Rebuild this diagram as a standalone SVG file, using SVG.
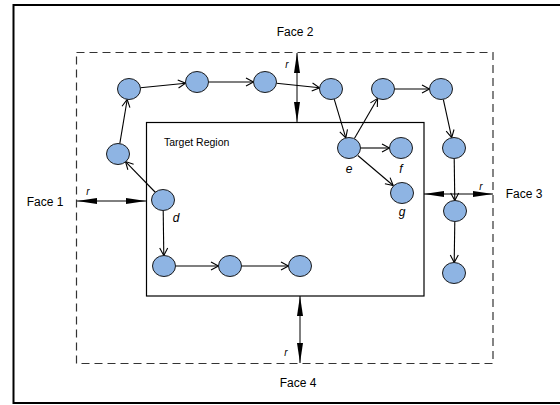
<svg xmlns="http://www.w3.org/2000/svg" width="560" height="405" viewBox="0 0 560 405">
<defs>
<style>
.node{fill:#8EB4E3;stroke:#1a1a1a;stroke-width:1}
.edge{stroke:#000;stroke-width:1.1;fill:none;marker-end:url(#open)}
.dim{stroke:#000;stroke-width:1;fill:none;marker-start:url(#solid);marker-end:url(#solid)}
.face{font-family:"Liberation Sans",Arial,sans-serif;font-size:12px;fill:#000;text-anchor:middle}
.lbl{font-family:"Liberation Sans",Arial,sans-serif;font-size:12px;font-style:italic;fill:#000;text-anchor:middle}
.r{font-family:"Liberation Sans",Arial,sans-serif;font-size:10px;font-style:italic;fill:#000;text-anchor:middle}
</style>
<marker id="open" markerUnits="userSpaceOnUse" markerWidth="12" markerHeight="12" refX="8" refY="4" orient="auto" overflow="visible">
<path d="M0.5,0 L8,4 L0.5,8" fill="none" stroke="#000" stroke-width="1.1"/>
</marker>
<marker id="solid" markerUnits="userSpaceOnUse" markerWidth="22" markerHeight="8" refX="20" refY="3" orient="auto-start-reverse" overflow="visible">
<path d="M0,0 L20,3 L0,6 Z" fill="#000"/>
</marker>
</defs>
<rect x="13.5" y="5" width="560" height="398" fill="#fff" stroke="#000" stroke-width="2"/>
<rect x="76.5" y="52.5" width="416.5" height="311" fill="none" stroke="#333" stroke-width="1.2" stroke-dasharray="8,5"/>
<g id="target">
<rect x="146.5" y="122.5" width="277.5" height="173.5" fill="#fff" stroke="#000" stroke-width="1.2"/>
<text x="164" y="146" font-family="Liberation Sans,Arial,sans-serif" font-size="10.5px">Target Region</text>
</g>
<g id="connectors">
<line class="edge" x1="119.8" y1="143.6" x2="127.2" y2="99.5"/>
<line class="edge" x1="140.4" y1="87.8" x2="185.6" y2="83.2"/>
<line class="edge" x1="208.5" y1="82" x2="253.5" y2="82"/>
<line class="edge" x1="276.4" y1="83.2" x2="319.6" y2="87.8"/>
<line class="edge" x1="334.2" y1="99.1" x2="345.8" y2="137.8"/>
<line class="edge" x1="354.4" y1="138.6" x2="377.6" y2="98.4"/>
<line class="edge" x1="394.5" y1="89" x2="429.5" y2="89"/>
<line class="edge" x1="443.3" y1="99.3" x2="451.7" y2="137.7"/>
<line class="edge" x1="360.5" y1="148" x2="389.5" y2="148"/>
<line class="edge" x1="357.8" y1="155.5" x2="393.2" y2="185.5"/>
<line class="edge" x1="454.2" y1="158.5" x2="454.8" y2="200.5"/>
<line class="edge" x1="454.8" y1="221.5" x2="454.2" y2="262.5"/>
<line class="edge" x1="155.5" y1="192.5" x2="125.5" y2="161.6"/>
<line class="edge" x1="163.2" y1="210.5" x2="163.8" y2="255.5"/>
<line class="edge" x1="175.5" y1="266" x2="218.5" y2="266"/>
<line class="edge" x1="241.5" y1="266" x2="288.5" y2="266"/>
<line class="dim" x1="297" y1="53" x2="297" y2="122"/>
<line class="dim" x1="77" y1="201" x2="146" y2="201"/>
<line class="dim" x1="424" y1="194" x2="493" y2="194"/>
<line class="dim" x1="300" y1="296" x2="300" y2="363"/>
</g>
<g id="nA"><ellipse class="node" cx="118" cy="154" rx="11.5" ry="10.5"/></g>
<g id="nB"><ellipse class="node" cx="129" cy="89" rx="11.5" ry="10.5"/></g>
<g id="nC"><ellipse class="node" cx="197" cy="82" rx="11.5" ry="10.5"/></g>
<g id="nD"><ellipse class="node" cx="265" cy="82" rx="11.5" ry="10.5"/></g>
<g id="nE"><ellipse class="node" cx="331" cy="89" rx="11.5" ry="10.5"/></g>
<g id="ne"><ellipse class="node" cx="349" cy="148" rx="11.5" ry="10.5"/><text class="lbl" x="349" y="173">e</text></g>
<g id="nF"><ellipse class="node" cx="383" cy="89" rx="11.5" ry="10.5"/></g>
<g id="nG"><ellipse class="node" cx="441" cy="89" rx="11.5" ry="10.5"/></g>
<g id="nH"><ellipse class="node" cx="454" cy="148" rx="11.5" ry="10.5"/></g>
<g id="nf"><ellipse class="node" cx="401" cy="148" rx="11.5" ry="10.5"/><text class="lbl" x="401" y="173">f</text></g>
<g id="ng"><ellipse class="node" cx="402" cy="193" rx="11.5" ry="10.5"/><text class="lbl" x="402" y="216">g</text></g>
<g id="nI"><ellipse class="node" cx="455" cy="211" rx="11.5" ry="10.5"/></g>
<g id="nJ"><ellipse class="node" cx="454" cy="273" rx="11.5" ry="10.5"/></g>
<g id="nd"><ellipse class="node" cx="163" cy="200" rx="11.5" ry="10.5"/><text class="lbl" x="176" y="222">d</text></g>
<g id="nK"><ellipse class="node" cx="164" cy="266" rx="11.5" ry="10.5"/></g>
<g id="nL"><ellipse class="node" cx="230" cy="266" rx="11.5" ry="10.5"/></g>
<g id="nM"><ellipse class="node" cx="300" cy="266" rx="11.5" ry="10.5"/></g>
<g id="labels">
<text class="face" x="295" y="36">Face 2</text>
<text class="face" x="45" y="206">Face 1</text>
<text class="face" x="524" y="198">Face 3</text>
<text class="face" x="298" y="387">Face 4</text>
<text class="r" x="287" y="68">r</text>
<text class="r" x="88" y="195">r</text>
<text class="r" x="481" y="190">r</text>
<text class="r" x="286" y="356">r</text>
</g>
</svg>
